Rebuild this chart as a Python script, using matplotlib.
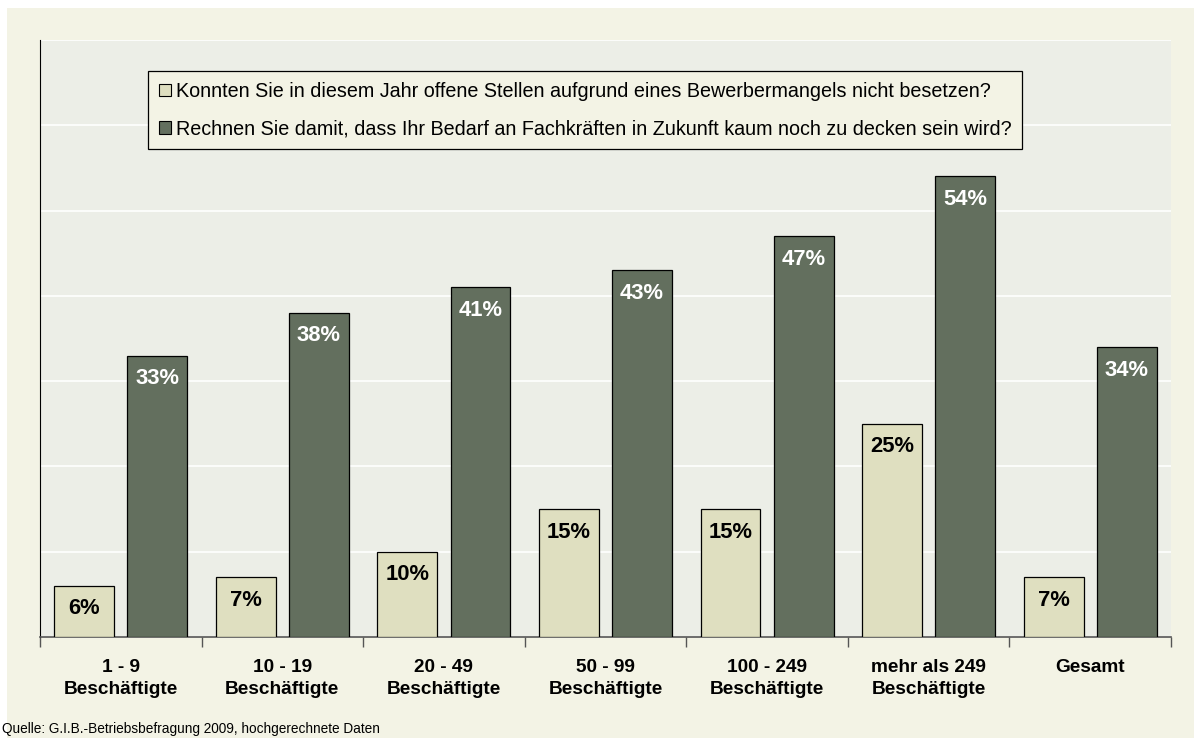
import matplotlib
matplotlib.use("Agg")
import matplotlib.pyplot as plt
from matplotlib.patches import Rectangle, Patch
import numpy as np

plt.rcParams['font.family'] = ['Liberation Sans', 'DejaVu Sans']

categories = ["1 - 9\nBeschäftigte", "10 - 19\nBeschäftigte", "20 - 49\nBeschäftigte",
              "50 - 99\nBeschäftigte", "100 - 249\nBeschäftigte",
              "mehr als 249\nBeschäftigte", "Gesamt"]
offene_stellen = [6, 7, 10, 15, 15, 25, 7]
fachkraefte = [33, 38, 41, 43, 47, 54, 34]
series_names = ["Konnten Sie in diesem Jahr offene Stellen aufgrund eines Bewerbermangels nicht besetzen?",
                "Rechnen Sie damit, dass Ihr Bedarf an Fachkräften in Zukunft kaum noch zu decken sein wird?"]
source = "Quelle: G.I.B.-Betriebsbefragung 2009, hochgerechnete Daten"

W, H = 1194, 738
fig = plt.figure(figsize=(W/100, H/100), dpi=100, facecolor='white')
fig.patches.append(Rectangle((7/W, 0), 1 - 7/W, 1 - 8/H, transform=fig.transFigure,
                             facecolor='#F3F3E5', edgecolor='none', zorder=-10))

ax = fig.add_axes([40/W, 1 - 637/H, (1171-40)/W, (637-40)/H])
ax.set_facecolor('#ECEEE7')

light = '#DFDFC0'
dark = '#636F5E'
x = np.arange(len(categories))
bw = 0.37
off = 0.2265
b1 = ax.bar(x - off, offene_stellen, bw, color=light, edgecolor='black', linewidth=0.9, zorder=3)
b2 = ax.bar(x + off, fachkraefte, bw, color=dark, edgecolor='black', linewidth=0.9, zorder=3)

ax.set_ylim(0, 70)
ax.set_xlim(-0.5, len(categories) - 0.5)
ax.set_yticks(np.arange(0, 71, 10))
ax.yaxis.grid(True, color='white', linewidth=1.2, zorder=0)
ax.tick_params(axis='y', left=False, labelleft=False)

for rects, vals, col in [(b1, offene_stellen, 'black'), (b2, fachkraefte, 'white')]:
    for r, v in zip(rects, vals):
        ax.annotate(f"{v}%", (r.get_x() + r.get_width()/2, v), xytext=(0, -23),
                    textcoords='offset pixels',
                    ha='center', va='center', fontsize=15.8, fontweight='bold', color=col, zorder=4)

ax.set_xticks(x)
ax.set_xticklabels(categories, fontsize=13.7, fontweight='bold', linespacing=1.4)
ax.tick_params(axis='x', length=0, pad=16)
ax.set_xticks(np.arange(-0.5, len(categories)), minor=True)
ax.tick_params(axis='x', which='minor', length=7, width=1, color='#555555')

for s in ['top', 'right']:
    ax.spines[s].set_visible(False)
ax.spines['left'].set_color('black')
ax.spines['bottom'].set_color('#555555')
ax.spines['bottom'].set_linewidth(1.2)

handles = [Patch(facecolor=light, edgecolor='black', linewidth=0.8),
           Patch(facecolor=dark, edgecolor='black', linewidth=0.8)]
leg = ax.legend(handles, series_names, loc='upper left',
                bbox_to_anchor=((148-40)/(1171-40), (637-71)/(637-40)),
                fontsize=14.2, frameon=True, fancybox=False, handlelength=0.6, handleheight=0.6,
                handletextpad=0.25, labelspacing=0.95, borderpad=0.55, borderaxespad=0)
leg.get_frame().set_facecolor('#F3F3E5')
leg.get_frame().set_edgecolor('black')
leg.get_frame().set_linewidth(0.9)
leg.get_frame().set_alpha(1)

fig.text(2/W, 1 - 729/H, source, fontsize=9.8, ha='left', va='center')

fig.savefig("out.png", dpi=100, facecolor=fig.get_facecolor())
